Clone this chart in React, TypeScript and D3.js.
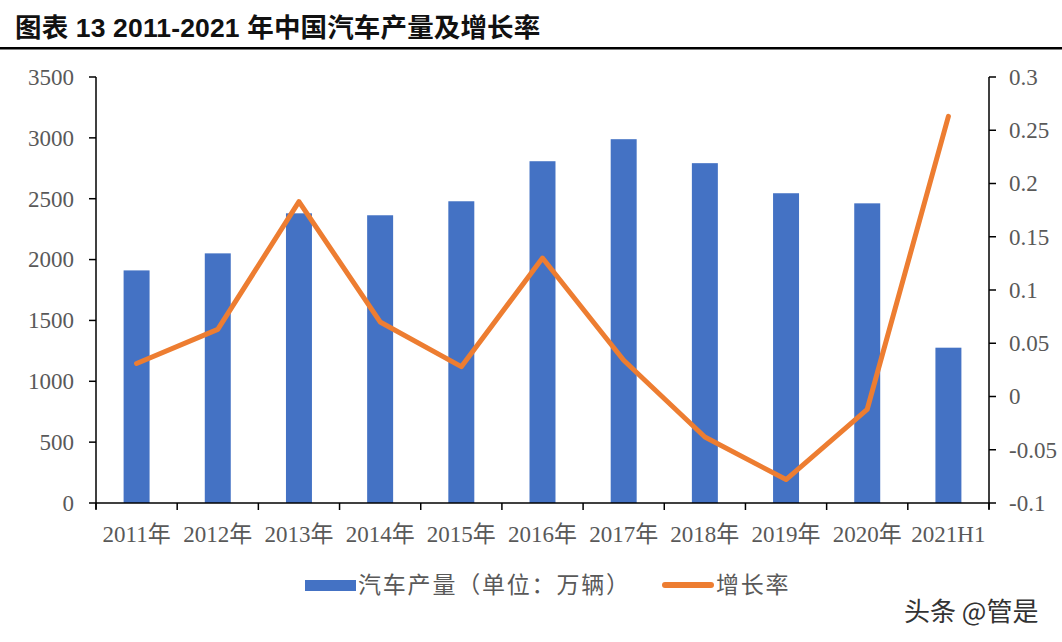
import React from 'react';
import * as d3 from 'd3';

const categories = ['2011年', '2012年', '2013年', '2014年', '2015年', '2016年', '2017年', '2018年', '2019年', '2020年', '2021H1'];
const production = [1911, 2051, 2380, 2364, 2479, 2808, 2989, 2792, 2545, 2462, 1276];
const growth = [0.031, 0.063, 0.183, 0.07, 0.028, 0.13, 0.034, -0.038, -0.078, -0.012, 0.263];
const leftTicks = [0, 500, 1000, 1500, 2000, 2500, 3000, 3500];
const rightTicks = [-0.1, -0.05, 0, 0.05, 0.1, 0.15, 0.2, 0.25, 0.3];

const W = 1062;
const H = 642;
const left = 96;
const right = 989;
const top = 77;
const bottom = 503;

const serif = '"Liberation Serif", "Times New Roman", "Noto Sans CJK SC", serif';
const labelColor = '#595959';

const App = () => {
  const x = d3.scaleBand<string>().domain(categories).range([left, right]).padding(0);
  const yL = d3.scaleLinear().domain([0, 3500]).range([bottom, top]);
  const yR = d3.scaleLinear().domain([-0.1, 0.3]).range([bottom, top]);
  const barW = x.bandwidth() * 0.32;
  const cx = (c: string) => (x(c) as number) + x.bandwidth() / 2;

  const line = d3
    .line<number>()
    .x((_, i) => cx(categories[i]))
    .y((d) => yR(d));

  const boundaries = categories.map((c) => x(c) as number).concat([right]);

  return (
    <svg width={W} height={H} style={{ position: 'absolute', left: 0, top: 0, background: '#fff' }}>
      <rect width={W} height={H} fill="#fff" />
      {/* 标题 */}
      <text
        x={15}
        y={37}
        fontSize={26.5}
        fontWeight="bold"
        fontFamily='"Liberation Sans", Arial, "Noto Sans CJK SC", sans-serif'
        fill="#111"
        letterSpacing={0.15}
      >
        图表 13 2011-2021 年中国汽车产量及增长率
      </text>
      <rect x={0} y={47} width={W} height={2.5} fill="#000" />

      {/* 柱子 */}
      {production.map((v, i) => (
        <rect
          key={categories[i]}
          x={cx(categories[i]) - barW / 2}
          y={yL(v)}
          width={barW}
          height={bottom - yL(v)}
          fill="#4472C4"
        />
      ))}

      {/* 增长率折线 */}
      <path
        d={line(growth) || ''}
        fill="none"
        stroke="#ED7D31"
        strokeWidth={5}
        strokeLinejoin="round"
        strokeLinecap="round"
      />

      {/* 左轴 */}
      <line x1={left} x2={left} y1={top} y2={bottom + 6} stroke="#000" strokeWidth={1.5} />
      {leftTicks.map((t) => (
        <g key={t}>
          <line x1={left - 7} x2={left} y1={yL(t)} y2={yL(t)} stroke="#000" strokeWidth={1.5} />
          <text
            x={74}
            y={yL(t)}
            dy="0.34em"
            textAnchor="end"
            fontSize={23}
            fontFamily={serif}
            fill={labelColor}
          >
            {t}
          </text>
        </g>
      ))}

      {/* 右轴 */}
      <line x1={right} x2={right} y1={top} y2={bottom + 6} stroke="#000" strokeWidth={1.5} />
      {rightTicks.map((t) => (
        <g key={t}>
          <line x1={right} x2={right + 7} y1={yR(t)} y2={yR(t)} stroke="#000" strokeWidth={1.5} />
          <text x={1009} y={yR(t)} dy="0.34em" fontSize={23} fontFamily={serif} fill={labelColor}>
            {t}
          </text>
        </g>
      ))}

      {/* X轴 */}
      <line x1={left} x2={right} y1={bottom} y2={bottom} stroke="#000" strokeWidth={1.5} />
      {boundaries.map((b, i) => (
        <line key={i} x1={b} x2={b} y1={bottom} y2={bottom + 7} stroke="#000" strokeWidth={1.5} />
      ))}
      {categories.map((c) => (
        <text
          key={c}
          x={cx(c)}
          y={542}
          textAnchor="middle"
          fontSize={23}
          fontFamily={serif}
          fill={labelColor}
        >
          {c}
        </text>
      ))}

      {/* 图例 */}
      <rect x={305} y={580} width={51} height={11} fill="#4472C4" />
      <text x={358} y={593} fontSize={23} fontFamily={serif} fill={labelColor} letterSpacing={1.8}>
        汽车产量（单位：万辆）
      </text>
      <line x1={665} x2={711} y1={585} y2={585} stroke="#ED7D31" strokeWidth={6} strokeLinecap="round" />
      <text x={716} y={593} fontSize={23} fontFamily={serif} fill={labelColor} letterSpacing={1.8}>
        增长率
      </text>

      {/* 水印 */}
      <text
        x={904}
        y={621}
        fontSize={26}
        fontFamily='"Noto Sans CJK SC", sans-serif'
        fill="#333"
      >
        头条 @管是
      </text>
    </svg>
  );
};

export default App;
